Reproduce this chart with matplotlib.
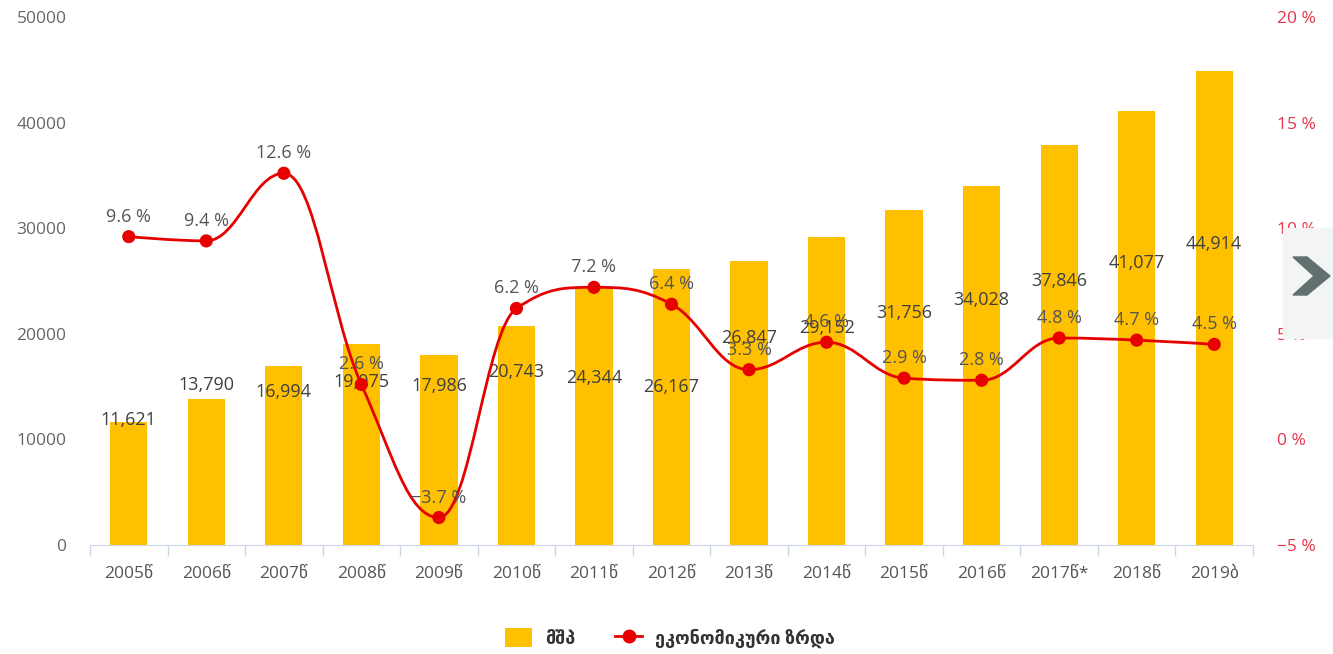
import numpy as np
import matplotlib.pyplot as plt
from matplotlib.path import Path
from matplotlib.patches import PathPatch, Rectangle, Polygon
from matplotlib.lines import Line2D
from matplotlib.patches import Patch

# data
years = ['2005წ', '2006წ', '2007წ', '2008წ', '2009წ', '2010წ', '2011წ', '2012წ',
         '2013წ', '2014წ', '2015წ', '2016წ', '2017წ*', '2018წ', '2019ბ']
gdp = [11621, 13790, 16994, 19075, 17986, 20743, 24344, 26167,
       26847, 29152, 31756, 34028, 37846, 41077, 44914]
growth = [9.6, 9.4, 12.6, 2.6, -3.7, 6.2, 7.2, 6.4, 3.3, 4.6, 2.9, 2.8, 4.8, 4.7, 4.5]

# where the bar value labels sit (left axis units)
bar_label_y = [11840, 15150, 14490, 15440, 15060, 16380, 15810, 14960,
               19600, 20550, 21970, 23200, 25000, 26700, 28500]

plt.rcParams['font.family'] = ['Open Sans', 'DejaVu Sans']

W, H = 1333, 654
fig = plt.figure(figsize=(W / 100, H / 100), dpi=100)
ax = fig.add_axes([90 / W, (H - 545) / H, (1253 - 90) / W, (545 - 17) / H])
ax2 = ax.twinx()

x = np.arange(len(years))
bar_color = '#ffc000'
line_color = '#e60000'

ax.bar(x, gdp, width=0.48, color=bar_color, zorder=1)
ax.set_xlim(-0.5, len(years) - 0.5)
ax.set_ylim(0, 50000)
ax2.set_ylim(-5, 20)

# left axis
ax.set_yticks(range(0, 50001, 10000))
ax.tick_params(axis='y', length=0, pad=17, labelsize=12.5, labelcolor='#666666')
# right axis
ax2.set_yticks(range(-5, 21, 5))
ax2.set_yticklabels([f'{v} %'.replace('-', '−') for v in range(-5, 21, 5)])
ax2.tick_params(axis='y', length=0, pad=17, labelsize=12.5, labelcolor='#e6344a')

# x axis
ax.set_xticks(x)
ax.set_xticklabels(years)
ax.set_xticks(np.arange(-0.5, len(years), 1), minor=True)
ax.tick_params(axis='x', which='major', length=0, pad=15, labelsize=12.5, labelcolor='#555555')
ax.tick_params(axis='x', which='minor', length=8, width=1, color='#ccd6eb', direction='out')

for a in (ax, ax2):
    for s in ('top', 'left', 'right'):
        a.spines[s].set_visible(False)
    a.spines['bottom'].set_color('#ccd6eb')
ax2.spines['bottom'].set_visible(False)

# bar value labels
for xi, v, ly in zip(x, gdp, bar_label_y):
    ax.text(xi, ly, f'{v:,}', ha='center', va='center', fontsize=13,
            color='#404040', zorder=5)

# smooth growth line (spline through the points)
def spline_path(xs, ys, smoothing=1.5):
    n = len(xs)
    right = [None] * n
    left = [None] * n
    for i in range(n):
        px, py = xs[i], ys[i]
        if 0 < i < n - 1:
            lx, ly = xs[i - 1], ys[i - 1]
            nx, ny = xs[i + 1], ys[i + 1]
            d = smoothing + 1
            lcx = (smoothing * px + lx) / d
            lcy = (smoothing * py + ly) / d
            rcx = (smoothing * px + nx) / d
            rcy = (smoothing * py + ny) / d
            corr = (rcy - lcy) * (rcx - px) / (rcx - lcx) + py - rcy
            lcy += corr
            rcy += corr
            if lcy > ly and lcy > py:
                lcy = max(ly, py)
                rcy = 2 * py - lcy
            elif lcy < ly and lcy < py:
                lcy = min(ly, py)
                rcy = 2 * py - lcy
            if rcy > ny and rcy > py:
                rcy = max(ny, py)
                lcy = 2 * py - rcy
            elif rcy < ny and rcy < py:
                rcy = min(ny, py)
                lcy = 2 * py - rcy
            left[i] = (lcx, lcy)
            right[i] = (rcx, rcy)
        else:
            left[i] = (px, py)
            right[i] = (px, py)
    verts = [(xs[0], ys[0])]
    codes = [Path.MOVETO]
    for i in range(1, n):
        verts += [right[i - 1], left[i], (xs[i], ys[i])]
        codes += [Path.CURVE4] * 3
    return Path(verts, codes)

ax2.add_patch(PathPatch(spline_path(list(x), growth), fill=False,
                        edgecolor=line_color, lw=2, zorder=3))
ax2.scatter(x, growth, s=90, color=line_color, zorder=4, edgecolors='none')
for xi, g in zip(x, growth):
    ax2.annotate(f'{g} %'.replace('-', '−'), (xi, g), xytext=(0, 20),
                 textcoords='offset pixels', ha='center', va='center',
                 fontsize=13, color='#555555', zorder=6)

# navigation button on the right
fig.patches.append(Rectangle((1283 / W, (H - 338) / H), 50 / W, 110 / H,
                             transform=fig.transFigure, color='#f3f4f4', zorder=0))
chev = [(1293, 257), (1307, 257), (1330, 276), (1307, 295), (1293, 295), (1314, 276)]
fig.patches.append(Polygon([(px / W, (H - py) / H) for px, py in chev], closed=True,
                           transform=fig.transFigure, color='#637070', zorder=1))

# legend
handles = [Patch(facecolor=bar_color, edgecolor='none'),
           Line2D([0], [0], color=line_color, lw=2, marker='o', markersize=9)]
leg = fig.legend(handles, ['მშპ', 'ეკონომიკური ზრდა'], loc='center',
                 bbox_to_anchor=(670 / W, (H - 638) / H), ncol=2, frameon=False,
                 fontsize=13, handlelength=1.5, handleheight=1.2, columnspacing=2.2,
                 handletextpad=0.7)
for t in leg.get_texts():
    t.set_color('#333333')
    t.set_fontweight('bold')

fig.savefig('out.png', dpi=100)
